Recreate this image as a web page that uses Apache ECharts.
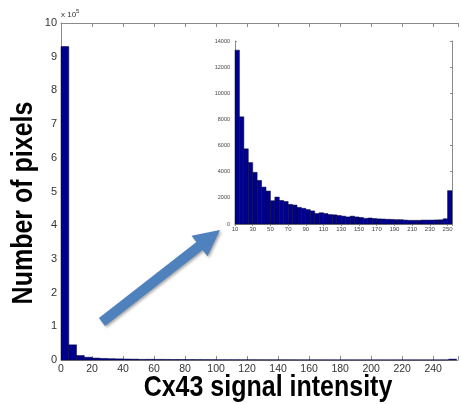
<!DOCTYPE html>
<html>
<head>
<meta charset="utf-8">
<script src="https://cdn.jsdelivr.net/npm/echarts@6/dist/echarts.min.js"></script>
<style>
  html, body { margin: 0; padding: 0; background: #fff; }
  #chart { width: 461px; height: 404px; }
</style>
</head>
<body>
<div id="chart"></div>
<script>
// histogram of Cx43 intensity, bins of 5 starting at 0 (last bin 250-255)
const BIN_WIDTH = 5;
const binCounts = [
  930000, 45000, 13300, 8200, 5750, 4700, 3950, 3330, 2820, 2520,
  1780, 2060, 1800, 1720, 1500, 1450, 1270, 1200, 1100, 1000,
  800, 860, 800, 720, 700, 650, 600, 540, 600, 540,
  500, 430, 460, 420, 390, 380, 360, 350, 330, 330,
  300, 280, 280, 280, 300, 300, 300, 310, 320, 400,
  2550,
];
const mainYTicks = [0, 1, 2, 3, 4, 5, 6, 7, 8, 9, 10]; // x 10^5
const mainXTicks = [0, 20, 40, 60, 80, 100, 120, 140, 160, 180, 200, 220, 240];
const insetXTicks = [10, 30, 50, 70, 90, 110, 130, 150, 170, 190, 210, 230, 250];
const insetYTicks = [0, 2000, 4000, 6000, 8000, 10000, 12000, 14000];

const BAR_FILL = "#00008f";
const BOX = "#8a8a8a";
const FONT = "Liberation Sans";

const bins = binCounts.map((c, i) => [i * BIN_WIDTH, (i + 1) * BIN_WIDTH, c]);
const insetBins = bins.filter((b) => b[0] >= insetXTicks[0]);

function renderBin(params, api) {
  const start = api.coord([api.value(0), api.value(2)]);
  const end = api.coord([api.value(1), 0]);
  return {
    type: "rect",
    shape: { x: start[0], y: start[1], width: end[0] - start[0], height: end[1] - start[1] },
    style: { fill: BAR_FILL, stroke: "#000033", lineWidth: 0.5 },
  };
}

function tickFilter(list) {
  return (v) => (list.includes(v) ? String(v) : "");
}

// arrow annotation (from lower-left towards the inset)
function arrowPoints(from, to, shaft, headLen, headHalf) {
  const dx = to[0] - from[0];
  const dy = to[1] - from[1];
  const len = Math.hypot(dx, dy);
  const ux = dx / len, uy = dy / len;
  const px = -uy, py = ux;
  const bx = to[0] - ux * headLen, by = to[1] - uy * headLen;
  return [
    [from[0] + px * shaft, from[1] + py * shaft],
    [bx + px * shaft, by + py * shaft],
    [bx + px * headHalf, by + py * headHalf],
    to,
    [bx - px * headHalf, by - py * headHalf],
    [bx - px * shaft, by - py * shaft],
    [from[0] - px * shaft, from[1] - py * shaft],
  ];
}

const chart = echarts.init(document.getElementById("chart"), null, { renderer: "canvas" });

const boxAxis = (gridIndex, position, tickLen) => ({
  gridIndex,
  position,
  axisLine: { show: true, lineStyle: { color: BOX, width: 1 } },
  axisTick: { show: true, inside: true, length: tickLen, lineStyle: { color: BOX } },
  axisLabel: { show: false },
  splitLine: { show: false },
});

chart.setOption({
  animation: false,
  backgroundColor: "#fff",
  grid: [
    { left: 61, top: 23, width: 404, height: 337 },
    { left: 235, top: 41, width: 217, height: 183, show: true, backgroundColor: "#fff", borderWidth: 0, z: 5 },
  ],
  xAxis: [
    {
      type: "value", gridIndex: 0, min: 0, max: 256, interval: 20,
      axisLine: { lineStyle: { color: BOX } },
      axisTick: { inside: true, length: 4, lineStyle: { color: BOX } },
      axisLabel: { color: "#333", fontSize: 10.5, fontFamily: FONT, margin: 4, formatter: tickFilter(mainXTicks) },
      splitLine: { show: false },
    },
    Object.assign(boxAxis(0, "top", 4), { type: "value", min: 0, max: 256, interval: 20 }),
    {
      type: "value", gridIndex: 1, min: 10, max: 255, interval: 20, z: 6,
      axisLine: { lineStyle: { color: BOX } },
      axisTick: { inside: true, length: 2, lineStyle: { color: BOX } },
      axisLabel: { color: "#444", fontSize: 6, fontFamily: FONT, margin: 2, formatter: tickFilter(insetXTicks) },
      splitLine: { show: false },
    },
    Object.assign(boxAxis(1, "top", 2), { type: "value", min: 10, max: 255, interval: 20, z: 6 }),
  ],
  yAxis: [
    {
      type: "value", gridIndex: 0, min: 0, max: 1000000, interval: 100000,
      axisLine: { show: true, lineStyle: { color: BOX } },
      axisTick: { show: true, inside: true, length: 4, lineStyle: { color: BOX } },
      axisLabel: {
        color: "#333", fontSize: 11, fontFamily: FONT, margin: 4,
        formatter: (v) => (mainYTicks.includes(v / 1e5) ? String(v / 1e5) : ""),
      },
      splitLine: { show: false },
    },
    {
      type: "value", gridIndex: 1, min: 0, max: 14000, interval: 2000, z: 6,
      axisLine: { show: true, lineStyle: { color: BOX } },
      axisTick: { show: true, inside: true, length: 2, lineStyle: { color: BOX } },
      axisLabel: { color: "#444", fontSize: 5.5, fontFamily: FONT, margin: 5, formatter: tickFilter(insetYTicks) },
      splitLine: { show: false },
    },
    Object.assign(boxAxis(1, "right", 2), { type: "value", min: 0, max: 14000, interval: 2000, z: 6 }),
  ],
  series: [
    {
      type: "custom", xAxisIndex: 0, yAxisIndex: 0,
      renderItem: renderBin, data: bins, encode: { x: [0, 1], y: 2 },
    },
    {
      type: "custom", xAxisIndex: 2, yAxisIndex: 1, z: 7,
      renderItem: renderBin, data: insetBins, encode: { x: [0, 1], y: 2 },
    },
  ],
  graphic: [
    {
      type: "polygon",
      shape: { points: arrowPoints([102, 322], [220, 230], 5, 26, 13) },
      style: { fill: "#4f81bd", shadowBlur: 3, shadowColor: "rgba(0,0,0,0.35)", shadowOffsetX: 1.5, shadowOffsetY: 1.5 },
      z: 10,
    },
    {
      type: "text", x: 268, y: 388, scaleY: 1.2,
      style: { text: "Cx43 signal intensity", fontSize: 25, fontWeight: "bold", fontFamily: FONT, fill: "#000", align: "center", verticalAlign: "middle" },
    },
    {
      type: "text", x: 24, y: 203, rotation: Math.PI / 2, scaleY: 1.2,
      style: { text: "Number of pixels", fontSize: 25, fontWeight: "bold", fontFamily: FONT, fill: "#000", align: "center", verticalAlign: "middle" },
    },
    {
      type: "text", x: 61, y: 15,
      style: { text: "x 10", fontSize: 8, fontFamily: FONT, fill: "#333", align: "left", verticalAlign: "middle" },
    },
    {
      type: "text", x: 76, y: 11,
      style: { text: "5", fontSize: 6, fontFamily: FONT, fill: "#333", align: "left", verticalAlign: "middle" },
    },
  ],
});
</script>
</body>
</html>
